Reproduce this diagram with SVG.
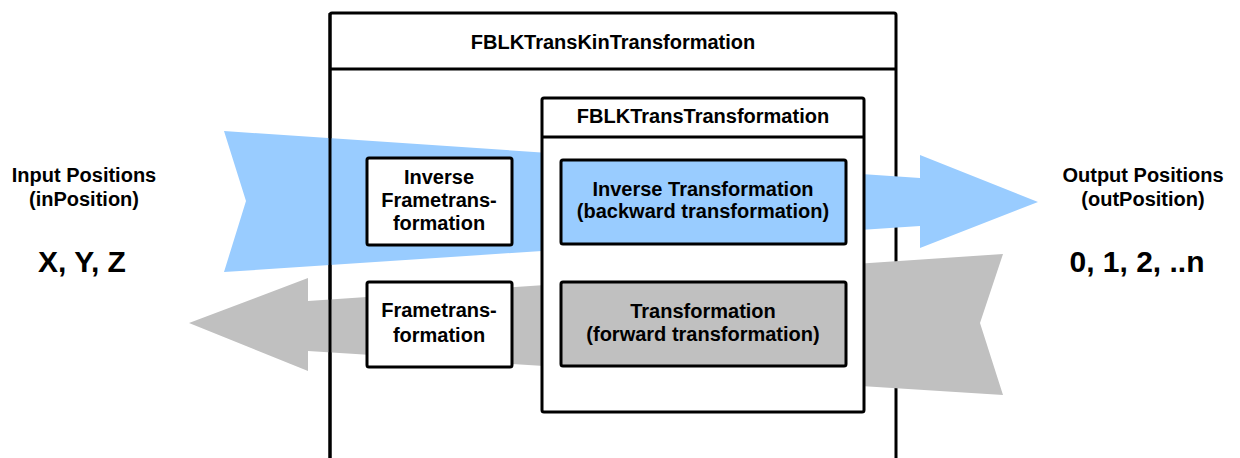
<svg xmlns="http://www.w3.org/2000/svg" width="1240" height="458" viewBox="0 0 1240 458">
  <style>
    .box { fill: #ffffff; stroke: #000000; stroke-width: 3; }
    .blue { fill: #99ccff; }
    .gray { fill: #c0c0c0; }
    .edge { stroke: #000000; stroke-width: 3; fill: none; }
    text { font-family: "Liberation Sans", Arial, sans-serif; font-weight: bold; font-size: 20px; fill: #000000; text-anchor: middle; }
    .big { font-size: 30px; }
  </style>

  <!-- outer function block -->
  <g id="fblk-transkin">
    <rect class="box" x="330" y="13" width="566" height="470" rx="2"/>
    <line class="edge" x1="330" y1="69" x2="896" y2="69"/>
    <text x="613" y="49">FBLKTransKinTransformation</text>
  </g>

  <!-- data flow arrows -->
  <g id="connectors">
    <polygon class="blue" points="224,131 920,178 920,155 1038,202 920,248 920,226 224,272 246,201"/>
    <polygon class="gray" points="1003,254 980,323 1003,395 308,351 308,371 189,323 308,278 308,301"/>
    <!-- left border of the outer block stays visible above the flows -->
    <line class="edge" x1="330" y1="13" x2="330" y2="470"/>
  </g>

  <!-- inner function block -->
  <g id="fblk-trans">
    <rect class="box" x="542" y="98" width="322" height="314" rx="2"/>
    <line class="edge" x1="542" y1="137" x2="864" y2="137"/>
    <text x="703" y="123">FBLKTransTransformation</text>
  </g>

  <g id="inverse-transformation">
    <rect class="box blue" x="561" y="160" width="285" height="84" rx="2"/>
    <text x="703" y="196">Inverse Transformation</text>
    <text x="703" y="218">(backward transformation)</text>
  </g>

  <g id="transformation">
    <rect class="box gray" x="561" y="282" width="285" height="84" rx="2"/>
    <text x="703" y="318">Transformation</text>
    <text x="703" y="341">(forward transformation)</text>
  </g>

  <g id="inverse-frametransformation">
    <rect class="box" x="367" y="158" width="145" height="87" rx="2"/>
    <text x="439" y="184">Inverse</text>
    <text x="439" y="207">Frametrans-</text>
    <text x="439" y="230">formation</text>
  </g>

  <g id="frametransformation">
    <rect class="box" x="367" y="282" width="145" height="85" rx="2"/>
    <text x="439" y="317">Frametrans-</text>
    <text x="439" y="342">formation</text>
  </g>

  <!-- side labels -->
  <g id="input-positions">
    <text x="84" y="182">Input Positions</text>
    <text x="84" y="206">(inPosition)</text>
    <text class="big" x="82" y="272">X, Y, Z</text>
  </g>

  <g id="output-positions">
    <text x="1143" y="182">Output Positions</text>
    <text x="1143" y="206">(outPosition)</text>
    <text class="big" x="1137" y="272">0, 1, 2, ..n</text>
  </g>
</svg>
